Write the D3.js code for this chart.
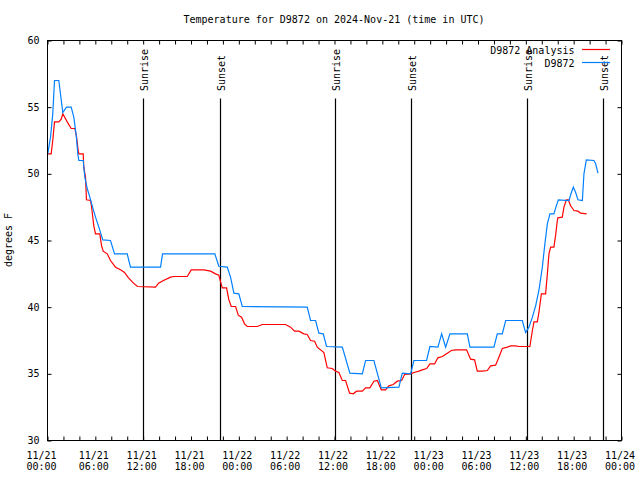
<!DOCTYPE html>
<html>
<head>
<meta charset="utf-8">
<script src="https://cdn.jsdelivr.net/npm/d3@7/dist/d3.min.js"></script>
<style>
  html, body { margin: 0; padding: 0; background: #fff; }
  svg { display: block; }
  text { font-family: "DejaVu Sans Mono", "Liberation Mono", monospace; font-size: 10px; fill: #000; }
</style>
</head>
<body>
<svg id="chart" width="640" height="480"></svg>
<script>
// ---- data (hours after 2024-11-21 00:00 UTC) ----
const titleText = "Temperature for D9872 on 2024-Nov-21 (time in UTC)";
const yLabelText = "degrees F";
const seriesNames = ["D9872 Analysis", "D9872"];

const obsHours = [0, 0.38, 0.66, 0.88, 1.42, 1.92, 2.38, 2.97, 3.30, 3.60, 3.80, 3.93, 4.48, 4.68, 4.98, 5.31, 5.61, 6.02, 6.44, 6.94, 7.90, 8.41, 10.0, 10.2, 10.41, 14.18, 14.43, 20.99, 21.49, 22.55, 22.96, 23.38, 24.0, 24.43, 32.58, 33.0, 33.63, 34.04, 34.59, 35.0, 36.98, 37.93, 39.49, 39.9, 40.94, 41.87, 44.08, 44.5, 45.55, 45.96, 47.55, 47.97, 48.97, 49.44, 49.94, 50.48, 52.66, 52.99, 56.0, 56.42, 57.05, 57.47, 59.56, 59.97, 60.39, 60.82, 61.23, 61.64, 62.07, 62.39, 62.7, 63.02, 63.52, 63.74, 64.08, 65.41, 65.71, 65.96, 66.25, 66.54, 67.09, 67.29, 67.59, 68.54, 68.76, 69.05];
const obsTemps = [51.4, 52.75, 54.5, 57, 57, 54.6, 55, 55, 54.25, 52.9, 51.5, 51.0, 51.0, 49.75, 48.9, 48.25, 47.6, 46.75, 46, 45.05, 45, 44, 44, 43.5, 43, 43, 44, 44, 43.07, 43, 42.25, 41.05, 41, 40.05, 40, 39, 39, 38.05, 38, 37.05, 37, 35.05, 35, 36, 36, 33.95, 34, 35.05, 35, 36, 36, 37.05, 37, 38, 37, 38, 38, 37, 37, 38, 38, 39, 39, 38.1, 38.5, 39.25, 40.1, 41.25, 43, 44.75, 46.25, 47, 47, 47.45, 48.05, 48, 48.6, 49, 48.6, 48.05, 48, 50, 51.05, 51, 50.75, 50.05];

const anaHours = [0, 0.46, 0.66, 0.88, 1.42, 1.72, 1.92, 2.47, 2.97, 3.43, 3.64, 3.85, 3.93, 4.48, 4.55, 4.77, 4.89, 5.40, 5.52, 5.81, 6.02, 6.56, 6.78, 6.99, 7.49, 7.9, 8.53, 9.16, 9.66, 10.16, 10.79, 11.29, 13.55, 13.93, 14.55, 15.43, 15.85, 17.53, 18.03, 19.61, 20.45, 21.08, 21.49, 21.71, 21.92, 22.46, 22.75, 23.05, 23.59, 23.93, 24.34, 24.72, 25.06, 26.31, 26.94, 29.86, 30.49, 30.99, 31.53, 32.16, 32.58, 33.0, 33.5, 33.84, 34.67, 35.09, 35.72, 36.14, 36.55, 36.98, 37.39, 37.89, 38.36, 38.77, 39.49, 39.9, 40.44, 40.94, 41.37, 41.87, 42.41, 42.82, 43.37, 43.88, 44.42, 44.79, 45.55, 45.96, 46.59, 47.01, 47.55, 47.97, 48.56, 48.97, 49.53, 50.15, 50.65, 51.19, 52.57, 53.07, 53.57, 53.91, 54.54, 55.17, 55.58, 56.21, 56.62, 57.05, 57.68, 58.09, 58.72, 59.14, 60.51, 60.82, 61.02, 61.44, 61.64, 61.95, 62.48, 62.7, 62.9, 63.11, 63.52, 63.74, 63.95, 64.02, 64.57, 64.78, 65.08, 65.33, 65.62, 66.04, 66.54, 66.87, 67.63];
const anaTemps = [51.5, 51.5, 52.5, 53.9, 53.9, 54.1, 54.5, 53.9, 53.4, 53.4, 52.8, 51.75, 51.5, 51.5, 50.5, 49.75, 48.05, 48.0, 47.55, 46.1, 45.5, 45.5, 44.6, 44.2, 44, 43.5, 43, 42.8, 42.6, 42.2, 41.8, 41.55, 41.5, 41.8, 42, 42.25, 42.3, 42.3, 42.8, 42.8, 42.7, 42.5, 42.4, 41.9, 41.45, 41.45, 40.55, 40.05, 40.05, 39.4, 39.25, 38.75, 38.55, 38.55, 38.7, 38.7, 38.5, 38.2, 38.2, 38.0, 37.95, 37.5, 37.45, 37.0, 36.6, 35.45, 35.4, 35.2, 35.1, 34.5, 34.5, 33.55, 33.5, 33.7, 33.7, 33.95, 33.95, 34.45, 34.5, 33.8, 33.8, 34.1, 34.2, 34.45, 34.5, 34.95, 35.0, 35.1, 35.2, 35.3, 35.4, 35.75, 35.75, 36.2, 36.3, 36.55, 36.75, 36.8, 36.8, 36.1, 36.05, 35.2, 35.2, 35.25, 35.6, 35.65, 36.25, 36.9, 37.0, 37.1, 37.1, 37.05, 37.05, 38.25, 38.9, 38.9, 39.6, 41, 41, 42.5, 44, 44.5, 44.5, 45.4, 46.5, 46.7, 46.75, 47.5, 48.05, 48.05, 47.6, 47.25, 47.2, 47.05, 47.0];

const sunriseHours = [11.95, 36.03, 60.1];
const sunsetHours = [21.6, 45.57, 69.68];

const yTicks = [30, 35, 40, 45, 50, 55, 60];
const xLabelHours = [0, 6, 12, 18, 24, 30, 36, 42, 48, 54, 60, 66, 72];
const xTickHours = d3.range(0, 73, 2);

// ---- layout ----
const base = Date.UTC(2024, 10, 21, 0, 0, 0);
const toDate = h => new Date(base + h * 3600e3);
const M = { left: 47.5, right: 621.5, top: 40.5, bottom: 440.5 };

const x = d3.scaleUtc().domain([toDate(0), toDate(72)]).range([M.left, M.right]);
const y = d3.scaleLinear().domain([30, 60]).range([M.bottom, M.top]);

const svg = d3.select("#chart");

svg.append("defs").append("clipPath").attr("id", "clip")
  .append("rect").attr("x", M.left).attr("y", M.top)
  .attr("width", M.right - M.left).attr("height", M.bottom - M.top);

// title
svg.append("text").attr("x", 334).attr("y", 23).attr("text-anchor", "middle").text(titleText);

// y label
svg.append("text").attr("transform", "translate(12,240) rotate(-90)")
  .attr("text-anchor", "middle").text(yLabelText);

// y ticks and labels
const yAxisL = d3.axisLeft(y).tickValues(yTicks).tickSize(-4).tickPadding(0).tickFormat(d3.format("d"));
const gy = svg.append("g").attr("transform", `translate(${M.left},0)`).call(yAxisL);
gy.select(".domain").remove();
gy.selectAll("line").attr("stroke", "#000");
gy.selectAll("text").remove();
svg.append("g").selectAll("text").data(yTicks).join("text")
  .attr("x", 39.5).attr("y", d => y(d) + 3.5).attr("text-anchor", "end").text(d => d);

const yAxisR = d3.axisRight(y).tickValues(yTicks).tickSize(-4).tickFormat("");
const gyr = svg.append("g").attr("transform", `translate(${M.right},0)`).call(yAxisR);
gyr.select(".domain").remove();
gyr.selectAll("line").attr("stroke", "#000");

// x ticks (bottom & top)
const xTicks = xTickHours.map(toDate);
const xAxisB = d3.axisBottom(x).tickValues(xTicks).tickSize(-4).tickFormat("");
const gxb = svg.append("g").attr("transform", `translate(0,${M.bottom})`).call(xAxisB);
gxb.select(".domain").remove();
gxb.selectAll("line").attr("stroke", "#000");
const xAxisT = d3.axisTop(x).tickValues(xTicks).tickSize(-4).tickFormat("");
const gxt = svg.append("g").attr("transform", `translate(0,${M.top})`).call(xAxisT);
gxt.select(".domain").remove();
gxt.selectAll("line").attr("stroke", "#000");

// x labels (two lines)
const fmtD = d3.utcFormat("%m/%d"), fmtT = d3.utcFormat("%H:%M");
const labelX = (d, i) => x(d) - (i === 0 ? 6 : 1.5);
const xl = svg.append("g").selectAll("g").data(xLabelHours.map(toDate)).join("g");
xl.append("text").attr("x", labelX).attr("y", 458.5).attr("text-anchor", "middle").text(d => fmtD(d));
xl.append("text").attr("x", labelX).attr("y", 469.5).attr("text-anchor", "middle").text(d => fmtT(d));

// sun lines
const sunEvents = sunriseHours.map(h => ({ h, label: "Sunrise" }))
  .concat(sunsetHours.map(h => ({ h, label: "Sunset" })));
const sg = svg.append("g").selectAll("g").data(sunEvents).join("g");
sg.append("line")
  .attr("x1", d => Math.round(x(toDate(d.h))) + 0.5).attr("x2", d => Math.round(x(toDate(d.h))) + 0.5)
  .attr("y1", 98.5).attr("y2", M.bottom)
  .attr("stroke", "#000").attr("stroke-width", 1.2);
sg.append("text")
  .attr("transform", d => `translate(${Math.round(x(toDate(d.h))) + 4.5},91) rotate(-90)`)
  .attr("text-anchor", "start").text(d => d.label);

// series lines
const line = d3.line().x(d => x(toDate(d[0]))).y(d => y(d[1]));
const plot = svg.append("g").attr("clip-path", "url(#clip)");
plot.append("path").datum(d3.zip(anaHours, anaTemps))
  .attr("d", line).attr("fill", "none").attr("stroke", "#ff0000").attr("stroke-width", 1.2);
plot.append("path").datum(d3.zip(obsHours, obsTemps))
  .attr("d", line).attr("fill", "none").attr("stroke", "#0080ff").attr("stroke-width", 1.2);

// legend
const legendColors = ["#ff0000", "#0080ff"];
const lg = svg.append("g").selectAll("g").data(seriesNames).join("g");
lg.append("text").attr("x", 574.5).attr("y", (d, i) => 54 + i * 13).attr("text-anchor", "end").text(d => d);
lg.append("line").attr("x1", 582).attr("x2", 610)
  .attr("y1", (d, i) => 49.5 + i * 13).attr("y2", (d, i) => 49.5 + i * 13)
  .attr("stroke", (d, i) => legendColors[i]).attr("stroke-width", 1.2);

// frame
svg.append("rect").attr("x", M.left).attr("y", M.top)
  .attr("width", M.right - M.left).attr("height", M.bottom - M.top)
  .attr("fill", "none").attr("stroke", "#000").attr("stroke-width", 1);
</script>
</body>
</html>
